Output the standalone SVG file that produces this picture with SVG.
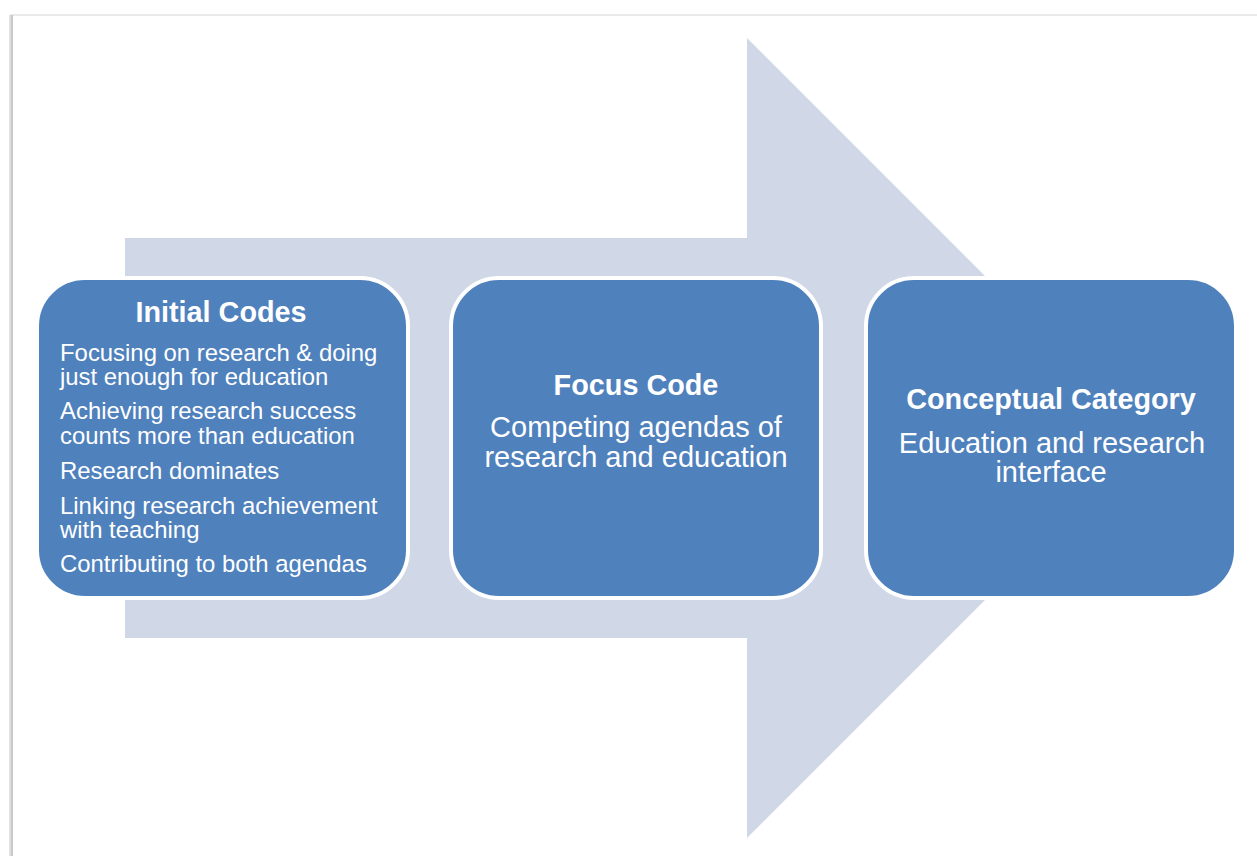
<svg xmlns="http://www.w3.org/2000/svg" width="1257" height="856" viewBox="0 0 1257 856">
  <style>
    .box { fill: #4F81BD; stroke: #FFFFFF; stroke-width: 4; }
    .t { font-family: "Liberation Sans", Arial, sans-serif; fill: #FFFFFF; }
    .title { font-size: 28.8px; font-weight: bold; text-anchor: middle; }
    .body1 { font-size: 23.9px; }
    .body2 { font-size: 29px; text-anchor: middle; }
  </style>
  <rect x="0" y="0" width="1257" height="856" fill="#FFFFFF"/>
  <g id="page-shadow">
    <rect x="10" y="14" width="1247" height="2" fill="#EAEAEA"/>
    <rect x="9" y="15" width="2" height="841" fill="#E0E0E0"/>
    <rect x="11" y="15" width="2" height="841" fill="#C9C9C9"/>
  </g>
  <g id="connectors">
    <polygon id="big-arrow" points="125,238 747,238 747,38 1147,438 747,838 747,638 125,638" fill="#D0D8E7"/>
  </g>
  <g id="node-initial-codes">
    <rect class="box" x="37" y="278" width="371" height="320" rx="48" ry="48"/>
    <text class="t title" x="221" y="322">Initial Codes</text>
    <text class="t body1" x="60" y="361">Focusing on research &amp; doing</text>
    <text class="t body1" x="60" y="385">just enough for education</text>
    <text class="t body1" x="60" y="419">Achieving research success</text>
    <text class="t body1" x="60" y="444">counts more than education</text>
    <text class="t body1" x="60" y="479">Research dominates</text>
    <text class="t body1" x="60" y="514">Linking research achievement</text>
    <text class="t body1" x="60" y="538">with teaching</text>
    <text class="t body1" x="60" y="572">Contributing to both agendas</text>
  </g>
  <g id="node-focus-code">
    <rect class="box" x="451" y="278" width="370" height="320" rx="48" ry="48"/>
    <text class="t title" x="636" y="395">Focus Code</text>
    <text class="t body2" x="636" y="437">Competing agendas of</text>
    <text class="t body2" x="636" y="467">research and education</text>
  </g>
  <g id="node-conceptual-category">
    <rect class="box" x="866" y="278" width="370" height="320" rx="48" ry="48"/>
    <text class="t title" x="1051" y="409">Conceptual Category</text>
    <text class="t body2" x="1052" y="453">Education and research</text>
    <text class="t body2" x="1051" y="482">interface</text>
  </g>
</svg>
